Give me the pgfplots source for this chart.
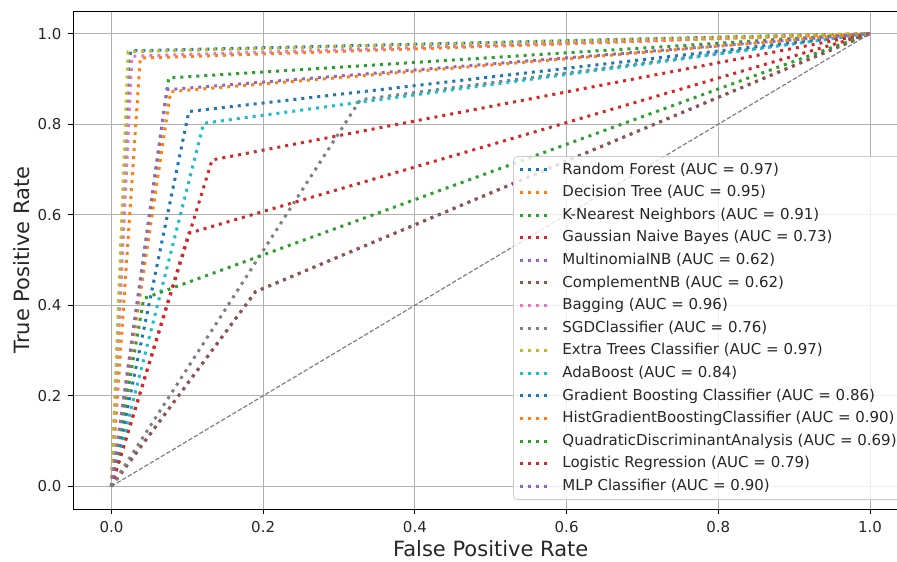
\documentclass[border=0pt]{standalone}
\usepackage{fontspec}
\setmainfont{DejaVu Sans}
\usepackage{pgfplots}
\pgfplotsset{compat=1.18}
\definecolor{C0}{HTML}{1F77B4}
\definecolor{C1}{HTML}{FF7F0E}
\definecolor{C2}{HTML}{2CA02C}
\definecolor{C3}{HTML}{D62728}
\definecolor{C4}{HTML}{9467BD}
\definecolor{C5}{HTML}{8C564B}
\definecolor{C6}{HTML}{E377C2}
\definecolor{C7}{HTML}{7F7F7F}
\definecolor{C8}{HTML}{BCBD22}
\definecolor{C9}{HTML}{17BECF}
\definecolor{gridc}{HTML}{B0B0B0}
\begin{document}
\begin{tikzpicture}
\begin{axis}[
  scale only axis, width=417.25pt, height=249pt,
  xmin=-0.05, xmax=1.05, ymin=-0.05, ymax=1.05,
  xtick={0,0.2,0.4,0.6,0.8,1.0}, ytick={0,0.2,0.4,0.6,0.8,1.0},
  /pgf/number format/.cd, fixed, precision=1, fixed zerofill, assume math mode=true, /pgfplots/.cd,
  tick align=outside, tick pos=left, major tick length=2.5pt,
  grid=major, major grid style={color=gridc, line width=0.45pt},
  axis line style={line width=0.45pt, black},
  tick style={black, line width=0.45pt},
  ticklabel style={font=\fontsize{7.5}{9}\selectfont, text=black!85},
  xlabel={False Positive Rate}, ylabel={True Positive Rate},
  label style={font=\fontsize{10.5}{12}\selectfont, text=black!85},
  xlabel style={at={(axis description cs:0.5,-0.0803)}, anchor=center},
  ylabel style={at={(axis description cs:-0.0617,0.5)}, anchor=center},
  every axis plot/.append style={line width=1.5pt, dash pattern=on 1.5pt off 2.5pt, line cap=butt},
  legend cell align=left,
  legend style={at={(1,0)}, anchor=south east, xshift=-1pt, yshift=4.5pt,
    font=\fontsize{7.5}{9}\selectfont, text=black!85,
    draw=black!20, fill=white, fill opacity=0.8, text opacity=1, rounded corners=2pt,
    nodes={text height=6pt, text depth=1.8pt, inner ysep=1.75pt},
    inner xsep=2.5pt, inner ysep=1pt},
  legend image code/.code={\draw[#1] (0pt,0pt) -- (13.5pt,0pt); \path (18.5pt,0pt);},
]
\addplot[C0] coordinates {(0,0) (0.025,0.962) (1,1)};
\addlegendentry{Random Forest (AUC = 0.97)}
\addplot[C1] coordinates {(0,0) (0.038,0.946) (1,1)};
\addlegendentry{Decision Tree (AUC = 0.95)}
\addplot[C2] coordinates {(0,0) (0.0755,0.902) (1,1)};
\addlegendentry{K-Nearest Neighbors (AUC = 0.91)}
\addplot[C3] coordinates {(0,0) (0.102,0.559) (1,1)};
\addlegendentry{Gaussian Naive Bayes (AUC = 0.73)}
\addplot[C4] coordinates {(0,0) (0.19,0.43) (1,1)};
\addlegendentry{MultinomialNB (AUC = 0.62)}
\addplot[C5] coordinates {(0,0) (0.19,0.43) (1,1)};
\addlegendentry{ComplementNB (AUC = 0.62)}
\addplot[C6] coordinates {(0,0) (0.027,0.950) (1,1)};
\addlegendentry{Bagging (AUC = 0.96)}
\addplot[C7] coordinates {(0,0) (0.328,0.854) (1,1)};
\addlegendentry{SGDClassifier (AUC = 0.76)}
\addplot[C8] coordinates {(0,0) (0.022,0.960) (1,1)};
\addlegendentry{Extra Trees Classifier (AUC = 0.97)}
\addplot[C9] coordinates {(0,0) (0.1216,0.802) (1,1)};
\addlegendentry{AdaBoost (AUC = 0.84)}
\addplot[C0] coordinates {(0,0) (0.102,0.828) (1,1)};
\addlegendentry{Gradient Boosting Classifier (AUC = 0.86)}
\addplot[C1] coordinates {(0,0) (0.078,0.872) (1,1)};
\addlegendentry{HistGradientBoostingClassifier (AUC = 0.90)}
\addplot[C2] coordinates {(0,0) (0.0426,0.415) (1,1)};
\addlegendentry{QuadraticDiscriminantAnalysis (AUC = 0.69)}
\addplot[C3] coordinates {(0,0) (0.1327,0.721) (1,1)};
\addlegendentry{Logistic Regression (AUC = 0.79)}
\addplot[C4] coordinates {(0,0) (0.073,0.876) (1,1)};
\addlegendentry{MLP Classifier (AUC = 0.90)}
\addplot[forget plot, gray, line width=0.6pt, dash pattern=on 2.2pt off 1pt] coordinates {(0,0) (1,1)};
\end{axis}
\pgfresetboundingbox
\useasboundingbox (-36.75pt,-26pt) rectangle (411.75pt,254.5pt);
\end{tikzpicture}
\end{document}
